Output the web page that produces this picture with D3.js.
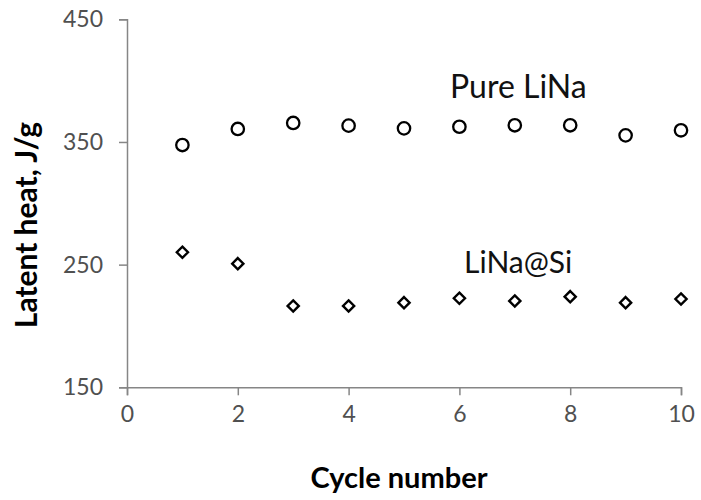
<!DOCTYPE html>
<html>
<head>
<meta charset="utf-8">
<script src="https://cdn.jsdelivr.net/npm/d3@7"></script>
<style>
  html, body { margin: 0; padding: 0; background: #fff; }
  svg { display: block; font-family: Lato, "Open Sans", sans-serif; }
</style>
</head>
<body>
<svg id="chart" width="701" height="500"></svg>
<script>
// Latent heat over repeated melting/freezing cycles
const cycles = [1, 2, 3, 4, 5, 6, 7, 8, 9, 10];
const pureLiNa = [347.5, 360.6, 365.5, 363.3, 361.1, 362.4, 363.6, 363.6, 355.4, 359.5];
const liNaSi = [260.1, 250.8, 216.3, 216.3, 219.0, 222.6, 220.4, 223.9, 219.0, 222.0];
const xTicks = [0, 2, 4, 6, 8, 10];
const yTicks = [150, 250, 350, 450];

const svg = d3.select("#chart");

const x = d3.scaleLinear().domain([0, 10]).range([127, 681]);
const y = d3.scaleLinear().domain([150, 450]).range([387.3, 19.3]);

const axisColor = "#868686";
const labelColor = "#505050";

// X axis
const gx = svg.append("g")
  .attr("transform", `translate(0,${y(150)})`)
  .call(d3.axisBottom(x).tickValues(xTicks).tickSize(8).tickPadding(10).tickFormat(d3.format("d")));
gx.select(".domain").attr("stroke", axisColor).attr("stroke-width", 1.5);
gx.selectAll(".tick line").attr("stroke", axisColor).attr("stroke-width", 1.5);
gx.selectAll(".tick text")
  .attr("fill", labelColor)
  .attr("font-size", 23)
  .attr("font-family", "Lato, sans-serif");

// Y axis
const gy = svg.append("g")
  .attr("transform", `translate(${x(0)},0)`)
  .call(d3.axisLeft(y).tickValues(yTicks).tickSize(8).tickPadding(16).tickFormat(d3.format("d")));
gy.select(".domain").attr("stroke", axisColor).attr("stroke-width", 1.5);
gy.selectAll(".tick line").attr("stroke", axisColor).attr("stroke-width", 1.5);
gy.selectAll(".tick text")
  .attr("fill", labelColor)
  .attr("font-size", 23)
  .attr("font-family", "Lato, sans-serif");

// Pure LiNa: open circles
svg.append("g").selectAll("circle")
  .data(cycles.map((c, i) => [c, pureLiNa[i]]))
  .join("circle")
  .attr("cx", d => x(d[0]))
  .attr("cy", d => y(d[1]))
  .attr("r", 6.2)
  .attr("fill", "none")
  .attr("stroke", "#000")
  .attr("stroke-width", 2.3);

// LiNa@Si: open diamonds
const diamond = d3.symbol().type(d3.symbolDiamond2).size(80);
svg.append("g").selectAll("path")
  .data(cycles.map((c, i) => [c, liNaSi[i]]))
  .join("path")
  .attr("d", diamond)
  .attr("transform", d => `translate(${x(d[0])},${y(d[1])})`)
  .attr("fill", "none")
  .attr("stroke", "#000")
  .attr("stroke-width", 2.4)
  .attr("stroke-linejoin", "miter");

// Series annotations
svg.append("text")
  .attr("x", 450).attr("y", 98)
  .attr("font-size", 32)
  .attr("fill", "#111")
  .text("Pure LiNa");

svg.append("text")
  .attr("x", 464).attr("y", 273)
  .attr("font-size", 30)
  .attr("fill", "#111")
  .text("LiNa@Si");

// Axis titles
svg.append("text")
  .attr("x", 399).attr("y", 488)
  .attr("text-anchor", "middle")
  .attr("font-size", 29)
  .attr("font-weight", "bold")
  .attr("fill", "#000")
  .text("Cycle number");

svg.append("text")
  .attr("transform", "translate(37,225) rotate(-90)")
  .attr("text-anchor", "middle")
  .attr("font-size", 30)
  .attr("font-weight", "bold")
  .attr("fill", "#000")
  .text("Latent heat, J/g");
</script>
</body>
</html>
